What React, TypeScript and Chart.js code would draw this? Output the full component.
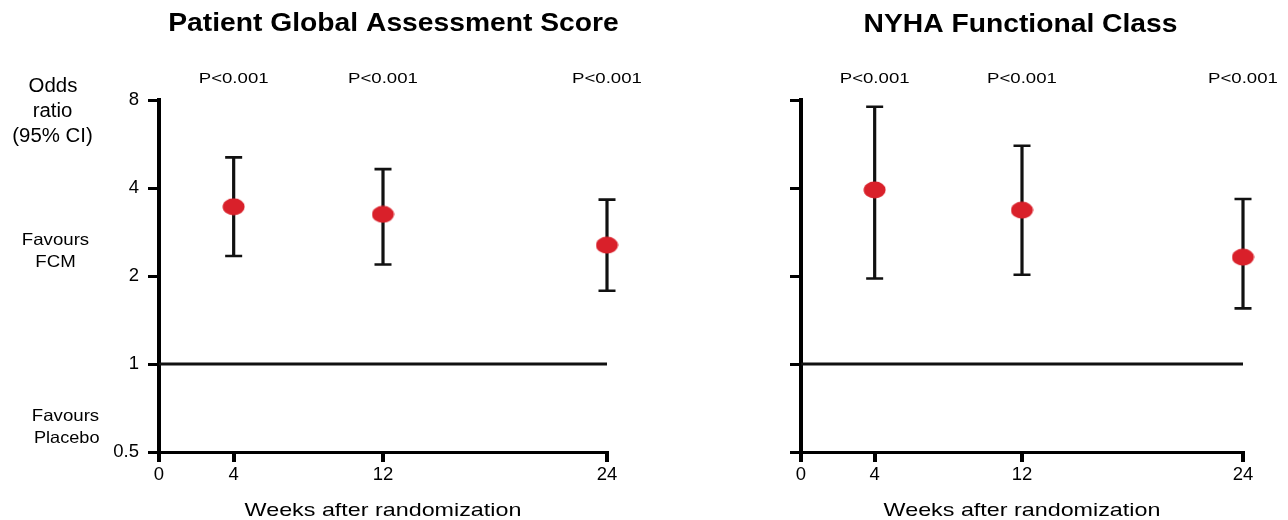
import React, { useEffect, useRef } from "react";
import { Chart, registerables } from "chart.js";

Chart.register(...registerables);

// ---- data ----
const weeks = [4, 12, 24];
const pgaOdds = [3.45, 3.25, 2.55];
const pgaLower = [2.34, 2.19, 1.78];
const pgaUpper = [5.09, 4.64, 3.65];
const nyhaOdds = [3.94, 3.36, 2.32];
const nyhaLower = [1.96, 2.02, 1.55];
const nyhaUpper = [7.59, 5.58, 3.67];
const pValues = ["P<0.001", "P<0.001", "P<0.001"];
const yTickValues = [0.5, 1, 2, 4, 8];
const xTickValues = [0, 4, 12, 24];
const referenceWeeks = [0, 24];
const referenceOdds = 1;

const RED = "#d9202a";
const FONT = "'Liberation Sans', Arial, sans-serif";

type Panel = {
  title: string;
  odds: number[];
  lower: number[];
  upper: number[];
  showYLabels: boolean;
  yAxisWidth: number;
  rightPad: number;
  titleX: number;
  titleY: number;
};

const panels: Panel[] = [
  {
    title: "Patient Global Assessment Score",
    odds: pgaOdds,
    lower: pgaLower,
    upper: pgaUpper,
    showYLabels: true,
    yAxisWidth: 159,
    rightPad: 37,
    titleX: 393.5,
    titleY: 30.5,
  },
  {
    title: "NYHA Functional Class",
    odds: nyhaOdds,
    lower: nyhaLower,
    upper: nyhaUpper,
    showYLabels: false,
    yAxisWidth: 157,
    rightPad: 45,
    titleX: 376.5,
    titleY: 31.5,
  },
];

function drawText(
  ctx: CanvasRenderingContext2D,
  s: string,
  x: number,
  y: number,
  font: string,
  sx: number,
  align: CanvasTextAlign = "center"
) {
  ctx.save();
  ctx.font = font;
  ctx.fillStyle = "#000";
  ctx.textBaseline = "alphabetic";
  ctx.textAlign = align;
  ctx.translate(x, y);
  ctx.scale(sx, 1);
  ctx.fillText(s, 0, 0);
  ctx.restore();
}

function makeMarker() {
  const c = document.createElement("canvas");
  c.width = 23;
  c.height = 18;
  const g = c.getContext("2d")!;
  g.fillStyle = RED;
  g.beginPath();
  g.ellipse(11.5, 9, 11, 8.5, 0, 0, Math.PI * 2);
  g.fill();
  return c;
}

function PanelChart({ panel, left }: { panel: Panel; left: number }) {
  const ref = useRef<HTMLCanvasElement | null>(null);
  useEffect(() => {
    const canvas = ref.current;
    if (!canvas) return;
    const marker = makeMarker();

    const errorBars = {
      id: "errorBars",
      beforeDatasetsDraw(chart: any) {
        const xs = chart.scales.x;
        const ys = chart.scales.y;
        const ctx = chart.ctx as CanvasRenderingContext2D;
        ctx.save();
        ctx.strokeStyle = "#111";
        weeks.forEach((w, i) => {
          const px = xs.getPixelForValue(w);
          const top = ys.getPixelForValue(panel.upper[i]);
          const bot = ys.getPixelForValue(panel.lower[i]);
          ctx.lineWidth = 3.2;
          ctx.beginPath();
          ctx.moveTo(px, top);
          ctx.lineTo(px, bot);
          ctx.stroke();
          ctx.lineWidth = 2.6;
          ctx.beginPath();
          ctx.moveTo(px - 8.5, top);
          ctx.lineTo(px + 8.5, top);
          ctx.moveTo(px - 8.5, bot);
          ctx.lineTo(px + 8.5, bot);
          ctx.stroke();
        });
        ctx.restore();
      },
    };

    const labels = {
      id: "labels",
      afterDraw(chart: any) {
        const ctx = chart.ctx as CanvasRenderingContext2D;
        const xs = chart.scales.x;
        const area = chart.chartArea;
        drawText(ctx, panel.title, panel.titleX, panel.titleY, `bold 25px ${FONT}`, 1.13);
        weeks.forEach((w, i) => {
          drawText(ctx, pValues[i], xs.getPixelForValue(w), 83, `15px ${FONT}`, 1.24);
        });
        drawText(
          ctx,
          "Weeks after randomization",
          (area.left + area.right) / 2,
          516,
          `18.5px ${FONT}`,
          1.26
        );
        if (panel.showYLabels) {
          drawText(ctx, "Odds", 53, 91.7, `20px ${FONT}`, 1.02);
          drawText(ctx, "ratio", 52.5, 117.3, `20px ${FONT}`, 1.02);
          drawText(ctx, "(95% CI)", 52.5, 141.7, `20px ${FONT}`, 1.02);
          drawText(ctx, "Favours", 55.5, 245, `16.5px ${FONT}`, 1.13);
          drawText(ctx, "FCM", 55.5, 266.5, `16.5px ${FONT}`, 1.13);
          drawText(ctx, "Favours", 65.5, 421, `16.5px ${FONT}`, 1.13);
          drawText(ctx, "Placebo", 66.7, 443, `16.5px ${FONT}`, 1.1);
        }
      },
    };

    const chart = new Chart(canvas, {
      type: "scatter",
      data: {
        datasets: [
          {
            data: referenceWeeks.map((w) => ({ x: w, y: referenceOdds })),
            showLine: true,
            borderColor: "#111",
            borderWidth: 3,
            pointRadius: 0,
            clip: false as any,
          },
          {
            data: weeks.map((w, i) => ({ x: w, y: panel.odds[i] })),
            pointStyle: marker as any,
            pointRadius: 9,
            backgroundColor: RED,
            borderColor: RED,
            clip: false as any,
          },
        ],
      },
      options: {
        responsive: false,
        animation: false,
        devicePixelRatio: 1,
        layout: { padding: { left: 0, top: 100, right: panel.rightPad, bottom: 0 } },
        plugins: {
          legend: { display: false },
          tooltip: { enabled: false },
          title: { display: false },
        },
        scales: {
          x: {
            type: "linear",
            min: 0,
            max: 24,
            afterBuildTicks: (s: any) => {
              s.ticks = xTickValues.map((v) => ({ value: v }));
            },
            afterFit: (s: any) => {
              s.height = 68;
            },
            ticks: {
              font: { family: FONT, size: 18.5 },
              color: "#000",
              padding: 2,
              maxRotation: 0,
              autoSkip: false,
              callback: (v: any) => String(v),
            },
            grid: {
              drawOnChartArea: false,
              drawTicks: true,
              tickLength: 10,
              color: "#000",
              lineWidth: 4,
            },
            border: { display: true, color: "#000", width: 3 },
          },
          y: {
            type: "logarithmic",
            min: 0.5,
            max: 8,
            afterBuildTicks: (s: any) => {
              s.ticks = yTickValues.map((v) => ({ value: v }));
            },
            afterFit: (s: any) => {
              s.width = panel.yAxisWidth;
            },
            ticks: {
              font: { family: FONT, size: 18.5 },
              color: "#000",
              padding: 9,
              autoSkip: false,
              callback: (v: any) => (panel.showYLabels ? String(v) : ""),
            },
            grid: {
              drawOnChartArea: false,
              drawTicks: true,
              tickLength: 11,
              color: "#000",
              lineWidth: 3,
            },
            border: { display: true, color: "#000", width: 4 },
          },
        },
      } as any,
      plugins: [errorBars, labels],
    });
    return () => chart.destroy();
  }, [panel]);

  return (
    <canvas
      ref={ref}
      width={644}
      height={520}
      style={{ position: "absolute", left, top: 0, width: 644, height: 520 }}
    />
  );
}

export default function App() {
  return (
    <div
      style={{
        position: "fixed",
        left: 0,
        top: 0,
        width: 1288,
        height: 520,
        background: "#fff",
      }}
    >
      <PanelChart panel={panels[0]} left={0} />
      <PanelChart panel={panels[1]} left={644} />
    </div>
  );
}
